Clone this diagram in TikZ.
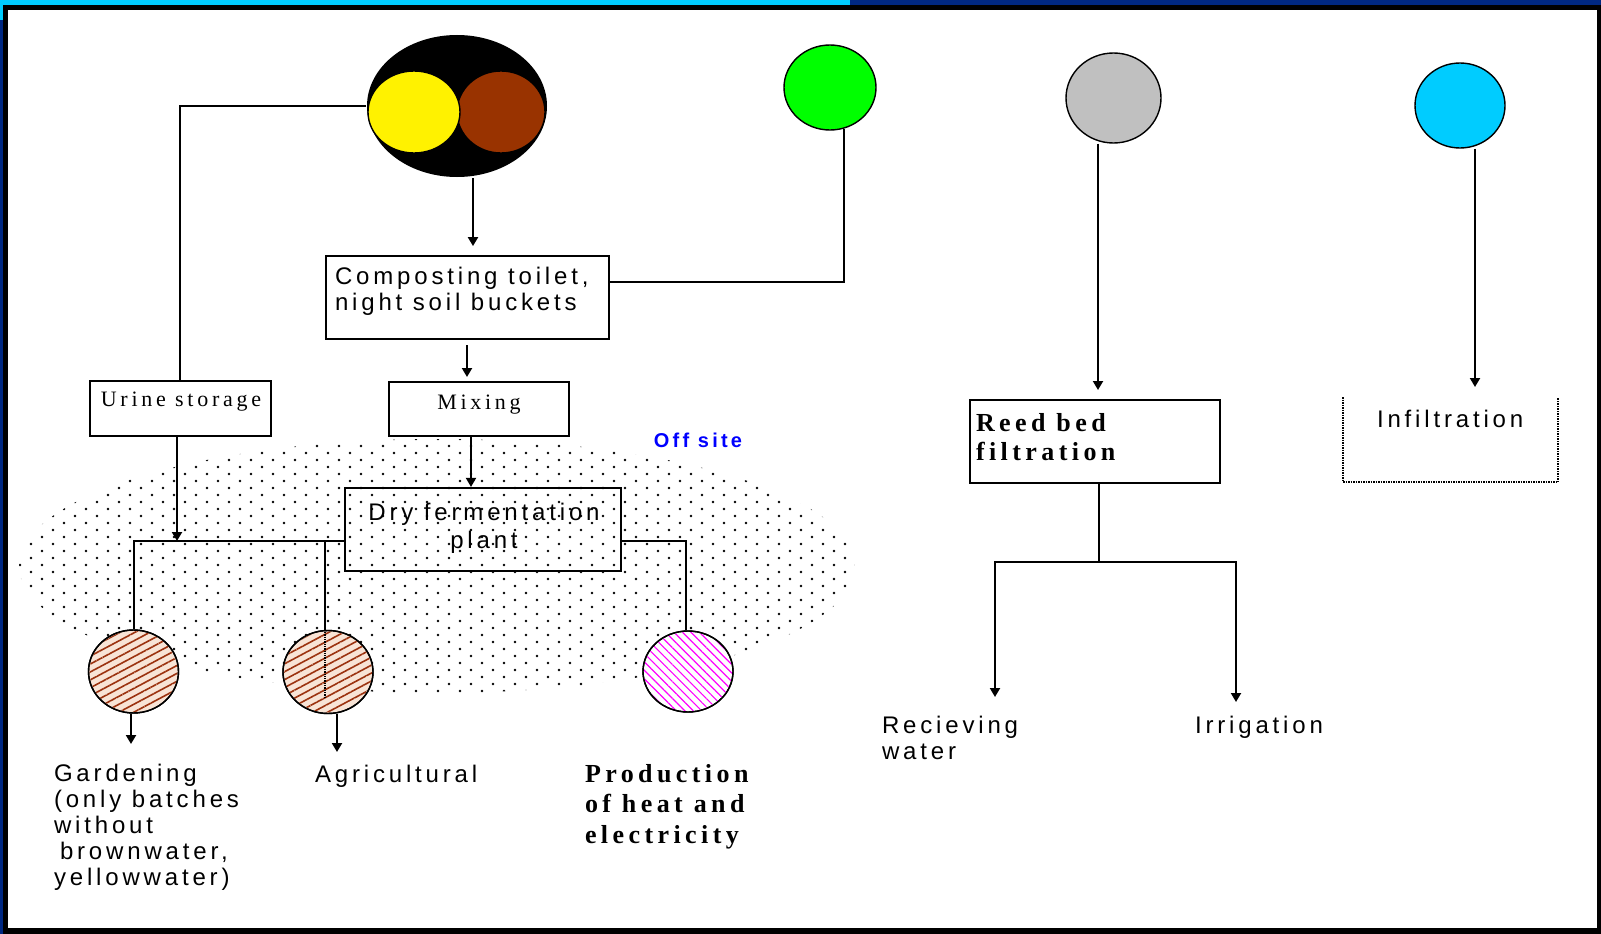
\documentclass[tikz,border=0pt]{standalone}
\usepackage{fontspec}
\setmainfont{Liberation Sans}
\newfontfamily\lsans[LetterSpace=16]{Liberation Sans}
\newfontfamily\lserif[LetterSpace=17]{Liberation Serif}
\usetikzlibrary{arrows.meta,shapes.geometric,patterns.meta}

\definecolor{topcyan}{RGB}{0,204,255}
\definecolor{navyband}{RGB}{0,40,130}
\definecolor{soilbrown}{RGB}{153,51,0}
\definecolor{hatchbrown}{RGB}{155,50,15}
\definecolor{hatchbg}{RGB}{248,228,214}
\definecolor{hatchpink}{RGB}{255,0,255}
\definecolor{greenC}{RGB}{0,255,0}
\definecolor{grayC}{RGB}{192,192,192}
\definecolor{blueC}{RGB}{0,204,255}
\definecolor{offblue}{RGB}{0,0,255}

\begin{document}
\begin{tikzpicture}[x=1pt,y=-1pt,line width=2pt,
  box/.style={draw,line width=2pt,inner sep=0pt},
  ball/.style={ellipse,draw,line width=1.4pt,inner sep=0pt},
  arr/.style={-{Triangle[length=9pt,width=10pt]}},
  stxt/.style={font=\lsans\fontsize{24}{26}\selectfont,inner sep=0pt},
  rtxt/.style={font=\lserif\fontsize{22}{26}\selectfont,inner sep=0pt},
  btxt/.style={font=\lserif\bfseries\fontsize{26}{30.5}\selectfont,inner sep=0pt},
]
\useasboundingbox (0,0) rectangle (1601,934);
% frame
\fill[black] (0,0) rectangle (1601,934);
\fill[navyband] (0,0) rectangle (2.5,934);
\fill[topcyan] (0,0) rectangle (850,5);
\fill[navyband] (850,0) rectangle (1601,5);
\fill[topcyan] (0,0) rectangle (2.5,20);
\fill[white] (8,10) rectangle (1597,928);

% dotted off-site region
\begin{scope}
\clip (437,566) ellipse [x radius=418, y radius=127];
\foreach \r in {0,...,37}{
  \foreach \c in {0,...,38}{
    \fill[black] ({20+mod(\r,2)*11+22*\c},{439+7*\r}) circle (1.3);
  }
}
\end{scope}

% source circles
\node[ellipse,fill=black,minimum width=180,minimum height=142,inner sep=0pt] (big) at (457,106) {};
\node[ball,fill=soilbrown,minimum width=88,minimum height=82] (brown) at (501,112) {};
\node[ball,fill=yellow,minimum width=92,minimum height=82] (yell) at (414,112) {};
\node[ball,fill=greenC,minimum width=92,minimum height=85] (green) at (830,87.5) {};
\node[ball,fill=grayC,minimum width=95,minimum height=90] (gray) at (1113.5,98) {};
\node[ball,fill=blueC,minimum width=90,minimum height=85] (blue) at (1460,105.5) {};

% boxes
\node[box,minimum width=283,minimum height=83] (comp) at (467,297.6) {};
\node[box,minimum width=181,minimum height=55] (urine) at (180,408.5) {};
\node[box,minimum width=180,minimum height=54] (mix) at (479,409) {};
\node[box,minimum width=276,minimum height=83] (dry) at (483,529.4) {};
\node[box,minimum width=250,minimum height=83] (reed) at (1095,441.5) {};
\node[inner sep=0pt,minimum width=213,minimum height=83] (infil) at (1450.5,439.5) {};
\draw[densely dotted,line width=1.5pt] (infil.north west) -- (infil.south west) -- (infil.south east) -- (infil.north east);

% product circles
\node[ball,fill=hatchbg,minimum width=90,minimum height=83] (g1) at (133.5,671.5) {};
\node[ball,fill=hatchbg,minimum width=90,minimum height=83] (g2) at (328,672) {};
\node[ball,fill=white,minimum width=90,minimum height=81] (pink) at (688,671.5) {};
\fill[pattern={Lines[angle=28,distance=7pt,line width=1.6pt]},pattern color=hatchbrown] (g1.center) ellipse [x radius=44, y radius=40.5];
\fill[pattern={Lines[angle=28,distance=7pt,line width=1.6pt]},pattern color=hatchbrown] (g2.center) ellipse [x radius=44, y radius=40.5];
\fill[pattern={Lines[angle=-45,distance=6pt,line width=1.2pt]},pattern color=hatchpink] (pink.center) ellipse [x radius=44, y radius=39.5];
\draw[line width=1.4pt] (g1.center) ellipse [x radius=45, y radius=41.5];
\draw[line width=1.4pt] (g2.center) ellipse [x radius=45, y radius=41.5];
\draw[line width=1.4pt] (pink.center) ellipse [x radius=45, y radius=40.5];

% coordinates for free ends
\coordinate (bus) at (177,541);
\coordinate (a1) at (131,744);
\coordinate (a2) at (337,752);
\coordinate (rj) at (1099,562);
\coordinate (rl) at (995,697);
\coordinate (rr) at (1236,702);

% connectors
\draw (big.west) -| (urine.north);
\draw[arr] ([xshift=16pt]big.south) -- ([xshift=6pt,yshift=9pt]comp.north);
\draw (green.-71) |- ([yshift=15.5pt]comp.east);
\draw[arr] ([yshift=-5pt]comp.south) -- ([xshift=-12pt,yshift=4pt]mix.north);
\draw[arr] ([xshift=-8pt]mix.south) -- ([xshift=-12pt]dry.north);
\draw[arr] ([xshift=-3pt]urine.south) -- (bus);
\draw ([yshift=-11.5pt]dry.west) -| (g1.north);
\draw ([xshift=-3pt]g2.north |- bus) -- ([xshift=-3pt]g2.north);
\draw[densely dotted,line width=1.3pt] ([xshift=-3pt]g2.north) -- ([xshift=-3pt,yshift=16pt]g2.south);
\draw ([yshift=-11.5pt]dry.east) -| ([xshift=-2pt]pink.north);
\draw[arr] (a1 |- g1.south) -- (a1);
\draw[arr] (a2 |- g2.south) -- (a2);
\draw[arr] ([xshift=-15.5pt]gray.south) -- ([xshift=3pt,yshift=9pt]reed.north);
\draw ([xshift=4pt]reed.south) -- (rj);
\draw[arr] (rj) -| (rl);
\draw[arr] (rj) -| (rr);
\draw[arr] ([xshift=15pt]blue.south) -- ([xshift=24.5pt,yshift=10pt]infil.north);

% texts (base anchor of a multi-line node = baseline of its last line)
\node[stxt,anchor=base west,align=left] (tcomp) at (334,310) {Composting toilet,\\night soil buckets};
\node[rtxt,anchor=base] (turine) at (181,406) {Urine storage};
\node[rtxt,anchor=base] (tmix) at (479,409) {Mixing};
\node[stxt,anchor=base,align=center,font=\lsans\fontsize{24}{28}\selectfont] (tdry) at (484,548) {Dry fermentation\\plant};
\node[font=\lsans\bfseries\fontsize{20}{24}\selectfont,text=offblue,inner sep=0pt,anchor=base] (toff) at (698,447) {Off site};
\node[stxt,anchor=base west,align=left] (tgard) at (53,885) {Gardening\\(only batches\\without\\\hspace{6pt}brownwater,\\yellowwater)};
\node[stxt,anchor=base west] (tagri) at (314,782) {Agricultural};
\node[btxt,anchor=base west,align=left] (tprod) at (584,843) {Production\\of heat and\\electricity};
\node[btxt,anchor=base west,align=left,font=\lserif\bfseries\fontsize{26}{29.5}\selectfont] (treed) at (975,460.5) {Reed bed\\filtration};
\node[stxt,anchor=base west,align=left] (trecv) at (881,759) {Recieving\\water};
\node[stxt,anchor=base west] (tirr) at (1194,733) {Irrigation};
\node[stxt,anchor=base west] (tinf) at (1376,427) {Infiltration};
\end{tikzpicture}
\end{document}
